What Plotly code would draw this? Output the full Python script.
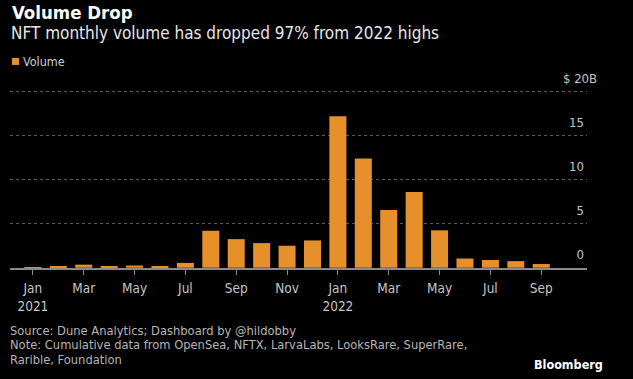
import plotly.graph_objects as go

months = ["2021-01", "2021-02", "2021-03", "2021-04", "2021-05", "2021-06",
          "2021-07", "2021-08", "2021-09", "2021-10", "2021-11", "2021-12",
          "2022-01", "2022-02", "2022-03", "2022-04", "2022-05", "2022-06",
          "2022-07", "2022-08", "2022-09"]
volume = [0.08, 0.2, 0.35, 0.2, 0.25, 0.2, 0.55, 4.2, 3.25, 2.8, 2.5, 3.1,
          17.2, 12.4, 6.55, 8.6, 4.25, 1.05, 0.88, 0.75, 0.42]
x_tick_vals = ["2021-01", "2021-03", "2021-05", "2021-07", "2021-09", "2021-11",
               "2022-01", "2022-03", "2022-05", "2022-07", "2022-09"]
x_tick_text = ["Jan<br>2021", "Mar", "May", "Jul", "Sep", "Nov",
               "Jan<br>2022", "Mar", "May", "Jul", "Sep"]
y_tick_vals = [0, 5, 10, 15, 20]
y_tick_text = ["0", "5", "10", "15", ""]
y_top_label = "$ 20B"

W_FIG, H_FIG = 633, 379
Y_MIN, Y_MAX = -0.03, 20.3
UNIT = 8.8
L, R = 10, 587
T = 91.7 - (Y_MAX - 20) * UNIT
B = 267.7 - Y_MIN * UNIT
PW, PH = R - L, B - T

FONT = "DejaVu Sans Condensed, sans-serif"
ORANGE = "#e5902b"


def px(x):
    return (x - L) / PW


def py(y):
    return (B - y) / PH


fig = go.Figure()
fig.add_trace(go.Bar(x=months, y=volume, marker=dict(color=ORANGE, line=dict(width=0)),
                     name="Volume", showlegend=False))

fig.update_layout(
    width=W_FIG, height=H_FIG,
    paper_bgcolor="#000000", plot_bgcolor="#000000",
    margin=dict(l=L, r=W_FIG - R, t=T, b=H_FIG - B, pad=0, autoexpand=False),
    bargap=0.33,
    font=dict(family=FONT, color="#bbbbbb", size=13),
    xaxis=dict(
        type="category", range=[-0.9, 21.8], automargin=False,
        tickvals=x_tick_vals, ticktext=x_tick_text,
        ticks="outside", ticklen=5, tickwidth=1, tickcolor="#8a8a8a",
        ticklabelstandoff=2,
        showline=True, linecolor="#8a8a8a", linewidth=2,
        showgrid=False, zeroline=False,
        tickfont=dict(family=FONT, size=13.5, color="#c4c4c4"),
    ),
    yaxis=dict(
        range=[Y_MIN, Y_MAX], side="right", automargin=False,
        tickvals=y_tick_vals, ticktext=y_tick_text,
        ticklabelposition="inside top", ticks="", ticklabelshift=-4,
        ticklabeloverflow="allow",
        showgrid=True, gridcolor="#5a5a5a", griddash="dot", gridwidth=1,
        zeroline=False, showline=False,
        tickfont=dict(family=FONT, size=13, color="#c4c4c4"),
    ),
)

annotations = [
    dict(text="<b>Volume Drop</b>", x=px(10), y=py(13), xanchor="left", yanchor="middle",
         font=dict(family=FONT, size=18.5, color="#ffffff")),
    dict(text="NFT monthly volume has dropped 97% from 2022 highs", x=px(9), y=py(33.5),
         xanchor="left", yanchor="middle", font=dict(family=FONT, size=17, color="#e6e6e6")),
    dict(text="Volume", x=px(21), y=py(61.5), xanchor="left", yanchor="middle",
         font=dict(family=FONT, size=12.5, color="#cccccc")),
    dict(text="Source: Dune Analytics; Dashboard by @hildobby", x=px(8), y=py(330),
         xanchor="left", yanchor="middle", font=dict(family=FONT, size=12.8, color="#b5b5b5")),
    dict(text="Note: Cumulative data from OpenSea, NFTX, LarvaLabs, LooksRare, SuperRare,",
         x=px(8), y=py(344.5), xanchor="left", yanchor="middle",
         font=dict(family=FONT, size=12.8, color="#b5b5b5")),
    dict(text="Rarible, Foundation", x=px(8), y=py(359), xanchor="left", yanchor="middle",
         font=dict(family=FONT, size=12.8, color="#b5b5b5")),
    dict(text="<b>Bloomberg</b>", x=px(605), y=py(364), xanchor="right", yanchor="middle",
         font=dict(family=FONT, size=12.5, color="#ffffff")),
    dict(text=y_top_label, x=px(599), xanchor="right", yref="y", y=20, yshift=13,
         yanchor="middle", font=dict(family=FONT, size=13, color="#c4c4c4")),
]
for a in annotations:
    a.setdefault("yref", "paper")
    a.update(xref="paper", showarrow=False)
fig.update_layout(annotations=annotations)

fig.add_shape(type="rect", xref="paper", yref="paper",
              x0=px(12), x1=px(19), y0=py(65), y1=py(58),
              fillcolor=ORANGE, line=dict(width=0))

fig.write_html(
    "out.html",
    config={"displayModeBar": False},
    post_script="document.documentElement.style.background='#000';"
                "document.body.style.margin='0';document.body.style.background='#000';",
)
